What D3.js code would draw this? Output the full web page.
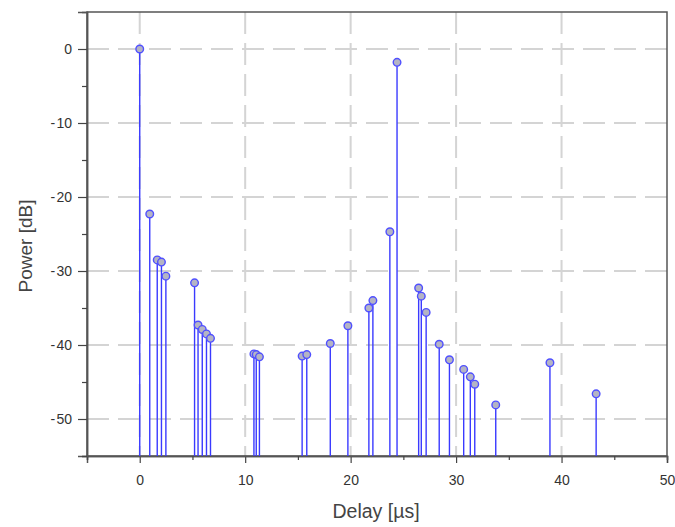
<!DOCTYPE html>
<html>
<head>
<meta charset="utf-8">
<script src="https://cdn.jsdelivr.net/npm/d3@7"></script>
<style>
  html, body { margin: 0; padding: 0; background: #fff; }
  svg { display: block; font-family: "Liberation Sans", Arial, sans-serif; }
</style>
</head>
<body>
<svg id="chart" width="675" height="527"></svg>
<script>
// Delay in microseconds
const delays = [0, 0.95, 1.66, 2.06, 2.48, 5.2, 5.53, 5.93, 6.33, 6.71,
  10.83, 11.05, 11.35, 15.4, 15.84, 18.07, 19.74, 21.73, 22.11, 23.72, 24.4,
  26.45, 26.7, 27.16, 28.4, 29.37, 30.72, 31.35, 31.77, 33.76, 38.9, 43.28];
// Power in dB
const powers = [0, -22.3, -28.5, -28.8, -30.7, -31.6, -37.3, -37.9, -38.5, -39.1,
  -41.2, -41.3, -41.6, -41.5, -41.3, -39.8, -37.4, -35.0, -34.0, -24.7, -1.8,
  -32.3, -33.4, -35.6, -39.9, -42.0, -43.3, -44.3, -45.3, -48.1, -42.4, -46.6];
const xTicks = [0, 10, 20, 30, 40, 50];
const xMinor = [-5, 5, 15, 25, 35, 45];
const yTicks = [0, -10, -20, -30, -40, -50];
const yMinor = [-5, -15, -25, -35, -45, -55];
const xLabel = "Delay [µs]";
const yLabel = "Power [dB]";

const svg = d3.select("#chart");
const L = 87, R = 667, T = 12, B = 456;
const x = d3.scaleLinear().domain([-5, 50]).range([L, R]);
const y = d3.scaleLinear().domain([-55, 5]).range([B, T]);
const fmt = d => String(d).replace("-", "-\u200A");

// grid
const grid = svg.append("g").attr("stroke", "#d4d4d4").attr("stroke-width", 2)
  .attr("stroke-dasharray", "22,9");
grid.selectAll("line.gx").data(xTicks.filter(d => d > -5 && d < 50)).join("line")
  .attr("x1", d => x(d)).attr("x2", d => x(d)).attr("y1", T).attr("y2", B);
grid.selectAll("line.gy").data(yTicks).join("line")
  .attr("y1", d => y(d)).attr("y2", d => y(d)).attr("x1", L).attr("x2", R);

// frame
svg.append("rect").attr("x", L).attr("y", T).attr("width", R - L).attr("height", B - T)
  .attr("fill", "none").attr("stroke", "#555").attr("stroke-width", 1.5);

// axes
const xAxis = svg.append("g").attr("transform", `translate(0,${B})`)
  .call(d3.axisBottom(x).tickValues(xTicks).tickSize(7).tickPadding(12).tickFormat(fmt));
const xAxisMinor = svg.append("g").attr("transform", `translate(0,${B})`)
  .call(d3.axisBottom(x).tickValues(xMinor).tickSize(4).tickFormat(""));
const yAxis = svg.append("g").attr("transform", `translate(${L},0)`)
  .call(d3.axisLeft(y).tickValues(yTicks).tickSize(9).tickPadding(6).tickFormat(fmt));
const yAxisMinor = svg.append("g").attr("transform", `translate(${L},0)`)
  .call(d3.axisLeft(y).tickValues(yMinor).tickSize(5).tickFormat(""));
[xAxis, xAxisMinor, yAxis, yAxisMinor].forEach(g => {
  g.select(".domain").attr("stroke", "#555").attr("stroke-width", 1.5);
  g.selectAll(".tick line").attr("stroke", "#444").attr("stroke-width", 1.2);
  g.selectAll(".tick text").attr("fill", "#333").attr("font-size", 14)
    .attr("font-family", "Liberation Sans, Arial, sans-serif");
});

// stems
const data = delays.map((d, i) => ({ d, p: powers[i] }));
svg.append("g").selectAll("line").data(data).join("line")
  .attr("x1", v => x(v.d)).attr("x2", v => x(v.d))
  .attr("y1", y(-55)).attr("y2", v => y(v.p))
  .attr("stroke", "#3a3aff").attr("stroke-width", 1.4);
svg.append("g").selectAll("circle").data(data).join("circle")
  .attr("cx", v => x(v.d)).attr("cy", v => y(v.p)).attr("r", 3.8)
  .attr("fill", "#b4b4c4").attr("stroke", "#5050ff").attr("stroke-width", 1.4);

// labels
svg.append("text").attr("x", (L + R) / 2 - 1).attr("y", 518).attr("text-anchor", "middle")
  .attr("font-size", 19.5).attr("fill", "#444").text(xLabel);
svg.append("text").attr("transform", `translate(32,${(T + B) / 2 + 12}) rotate(-90)`)
  .attr("text-anchor", "middle").attr("font-size", 19).attr("fill", "#444").text(yLabel);
</script>
</body>
</html>
